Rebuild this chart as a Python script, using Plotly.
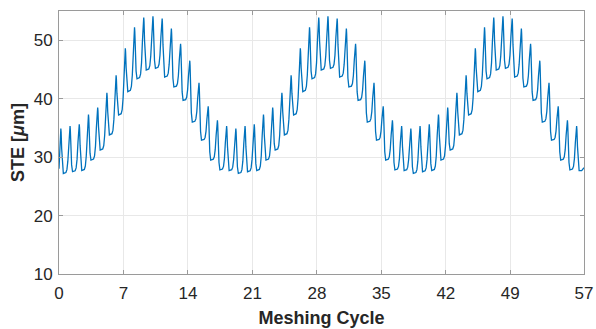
import plotly.graph_objects as go

# ---- data ----
# peak STE value of each meshing cycle (cycles 0..56)
peaks = [34.9, 35.3, 35.6, 37.3, 38.5, 41.0, 44.0, 48.6, 52.2, 53.9,
         54.1, 53.7, 52.0, 49.4, 46.5, 42.7, 38.7, 36.3, 35.3,
         34.9, 35.3, 35.6, 37.3, 38.5, 41.0, 44.0, 48.6, 52.2, 53.9,
         54.1, 53.7, 52.0, 49.4, 46.5, 42.7, 38.7, 36.3, 35.3,
         34.9, 35.3, 35.6, 37.3, 38.5, 41.0, 44.0, 48.6, 52.2, 53.9,
         54.1, 53.7, 52.0, 49.4, 46.5, 42.7, 38.7, 36.3, 35.3]
# valley (bottom) STE value following each peak
valleys = [27.2, 27.5, 27.7, 29.5, 31.2, 33.8, 37.2, 41.2, 43.4, 44.9,
           45.2, 43.7, 42.0, 39.7, 36.0, 32.9, 29.5, 27.8, 27.7,
           27.2, 27.5, 27.7, 29.5, 31.2, 33.8, 37.2, 41.2, 43.4, 44.9,
           45.2, 43.7, 42.0, 39.7, 36.0, 32.9, 29.5, 27.8, 27.7,
           27.2, 27.5, 27.7, 29.5, 31.2, 33.8, 37.2, 41.2, 43.4, 44.9,
           45.2, 43.7, 42.0, 39.7, 36.0, 32.9, 29.5, 27.8, 27.7]
start_value = 28.0
end_value = 28.2
peak_offset = 0.2

# waveform shape inside one cycle
fall_t = [0.03, 0.09, 0.17, 0.27]
fall_f = [0.92, 0.55, 0.15, 0.0]
rise_t = [0.55, 0.66, 0.76, 0.86, 0.96]
rise_f = [0.02, 0.08, 0.26, 0.62, 0.94]

x_ticks = [0, 7, 14, 21, 28, 35, 42, 49, 57]
y_ticks = [10, 20, 30, 40, 50]

# ---- build trace ----
xs = [0.0, 0.1]
ys = [start_value, start_value + 0.55 * (peaks[0] - start_value)]
n = len(peaks)
for i in range(n):
    c = i + peak_offset
    xs.append(c); ys.append(peaks[i])
    for t, f in zip(fall_t, fall_f):
        xs.append(c + t); ys.append(valleys[i] + f * (peaks[i] - valleys[i]))
    if i < n - 1:
        for t, f in zip(rise_t, rise_f):
            xs.append(c + t); ys.append(valleys[i] + f * (peaks[i + 1] - valleys[i]))
    else:
        xs.append(c + 0.55); ys.append(valleys[i])
        xs.append(57.0); ys.append(end_value)

fig = go.Figure(go.Scatter(x=xs, y=ys, mode="lines",
                           line=dict(color="#0072BD", width=1.3),
                           hoverinfo="skip"))

axis_common = dict(showline=True, linecolor="#9a9a9a", linewidth=1,
                   mirror="allticks", ticks="inside", ticklen=4,
                   tickcolor="#9a9a9a", showgrid=True, gridcolor="#e8e8e8",
                   gridwidth=1, zeroline=False, automargin=False,
                   tickfont=dict(family="Liberation Sans, Arial", size=17, color="#262626"))

fig.update_xaxes(range=[0, 57], tickvals=x_ticks, ticktext=[str(v) for v in x_ticks],
                 ticklabelstandoff=4,
                 title=dict(text="<b>Meshing Cycle</b>", standoff=8,
                            font=dict(family="Liberation Sans, Arial", size=18, color="#262626")),
                 **axis_common)
fig.update_yaxes(range=[10, 55], tickvals=y_ticks, ticktext=[str(v) for v in y_ticks],
                 ticklabelstandoff=2,
                 title=dict(text="<b>STE [<i>μ</i>m]</b>", standoff=4,
                            font=dict(family="Liberation Sans, Arial", size=18, color="#262626")),
                 **axis_common)

fig.update_layout(width=596, height=329,
                  margin=dict(l=59, r=12, t=11, b=55),
                  paper_bgcolor="white", plot_bgcolor="white",
                  showlegend=False)

fig.write_html("out.html")
